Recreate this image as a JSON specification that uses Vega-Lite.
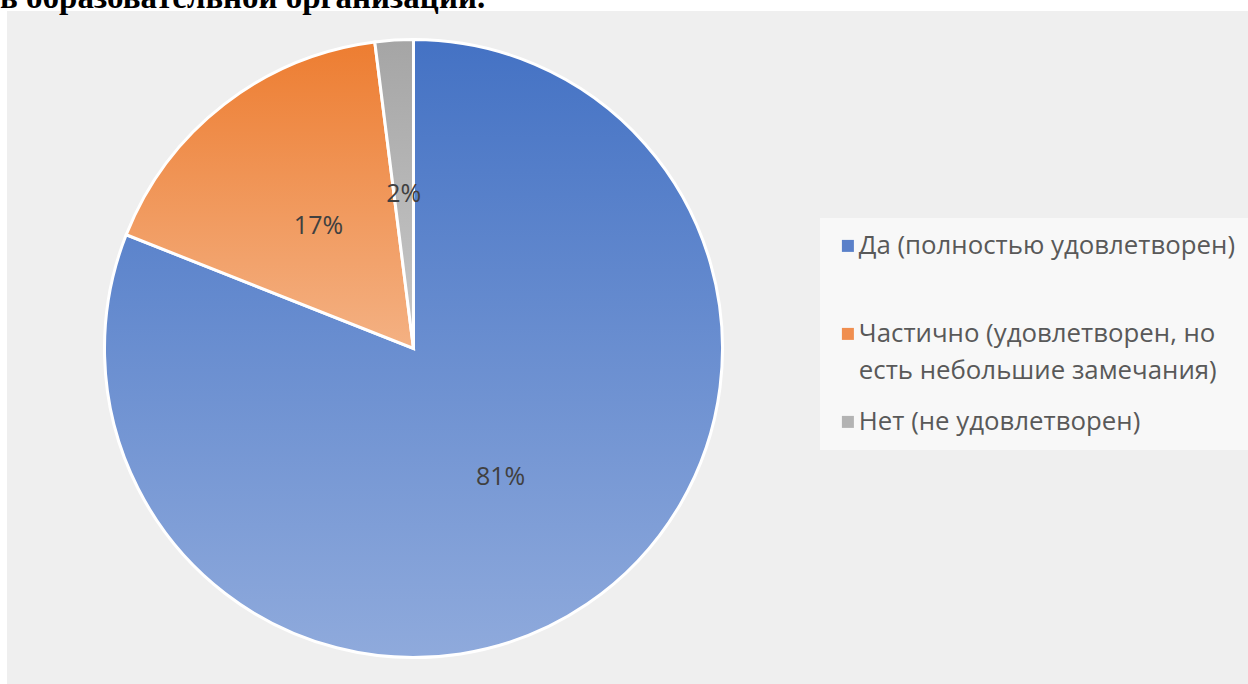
{
  "$schema": "https://vega.github.io/schema/vega-lite/v6.json",
  "background": "white",
  "padding": {"left": 0, "top": -18, "right": 0, "bottom": 0},
  "title": {"text": "в образовательной организации.", "anchor": "start", "frame": "group", "font": "Liberation Serif", "fontSize": 33, "fontWeight": "bold", "color": "#000000", "baseline": "alphabetic", "offset": -30, "dx": -7},
  "datasets": {
    "survey": [
      {"cat": "Да (полностью удовлетворен)", "share": 0.81},
      {"cat": "Частично (удовлетворен, но есть небольшие замечания)", "share": 0.17},
      {"cat": "Нет (не удовлетворен)", "share": 0.02}
    ]
  },
  "spacing": 0,
  "hconcat": [
    {
      "width": 813,
      "height": 675,
      "view": {"fill": "#efefef", "stroke": null},
      "data": {"name": "survey"},
      "encoding": {
        "theta": {"field": "share", "type": "quantitative", "stack": true},
        "order": {"field": "share", "type": "quantitative", "sort": "descending"},
        "detail": {"field": "cat", "type": "nominal"}
      },
      "layer": [
        {
          "mark": {"type": "arc", "outerRadius": 309, "stroke": "#ffffff", "strokeWidth": 3},
          "encoding": {
            "fill": {
              "condition": [
                {"test": "datum.cat === 'Да (полностью удовлетворен)'", "value": {"gradient": "linear", "x1": 0, "y1": 0, "x2": 0, "y2": 1, "stops": [{"offset": 0, "color": "#4472C4"}, {"offset": 1, "color": "#8FAADC"}]}},
                {"test": "datum.cat === 'Частично (удовлетворен, но есть небольшие замечания)'", "value": {"gradient": "linear", "x1": 0, "y1": 0, "x2": 0, "y2": 1, "stops": [{"offset": 0, "color": "#ED7D31"}, {"offset": 1, "color": "#F4B183"}]}}
              ],
              "value": {"gradient": "linear", "x1": 0, "y1": 0, "x2": 0, "y2": 1, "stops": [{"offset": 0, "color": "#A5A5A5"}, {"offset": 1, "color": "#C9C9C9"}]}
            }
          }
        },
        {
          "mark": {"type": "text", "radius": 155, "font": "Open Sans", "fontSize": 25, "color": "#404040"},
          "encoding": {
            "text": {"field": "share", "type": "quantitative", "format": ".0%"}
          }
        }
      ]
    },
    {
      "width": 428,
      "height": 675,
      "view": {"fill": "#efefef", "stroke": null},
      "data": {"name": "survey"},
      "mark": {"type": "arc", "outerRadius": 0, "innerRadius": 0},
      "encoding": {
        "theta": {"field": "share", "type": "quantitative", "stack": true},
        "color": {
          "field": "cat", "type": "nominal",
          "scale": {
            "domain": ["Да (полностью удовлетворен)", "Частично (удовлетворен, но есть небольшие замечания)", "Нет (не удовлетворен)"],
            "range": ["#5A80C9", "#F08E4F", "#B3B3B3"]
          },
          "legend": {
            "orient": "none",
            "legendX": 0,
            "legendY": 207,
            "padding": 15,
            "fillColor": "rgba(255,255,255,0.55)",
            "title": null,
            "symbolType": "square",
            "symbolSize": 144,
            "symbolStrokeWidth": 0,
            "symbolOpacity": 1,
            "labelFont": "Open Sans",
            "labelFontSize": 25.8,
            "labelColor": "#595959",
            "labelLimit": 0,
            "labelOffset": -2,
            "rowPadding": 24,
            "labelExpr": "datum.label == 'Частично (удовлетворен, но есть небольшие замечания)' ? ['Частично (удовлетворен, но', 'есть небольшие замечания)'] : datum.label == 'Да (полностью удовлетворен)' ? ['Да (полностью удовлетворен)', ' '] : datum.label",
            "encode": {"labels": {"update": {"lineHeight": {"value": 37}}}}
          }
        }
      }
    }
  ],
  "resolve": {"scale": {"color": "independent"}, "legend": {"color": "independent"}},
  "config": {
    "view": {"fill": "#efefef", "stroke": null},
    "font": "Open Sans"
  }
}
